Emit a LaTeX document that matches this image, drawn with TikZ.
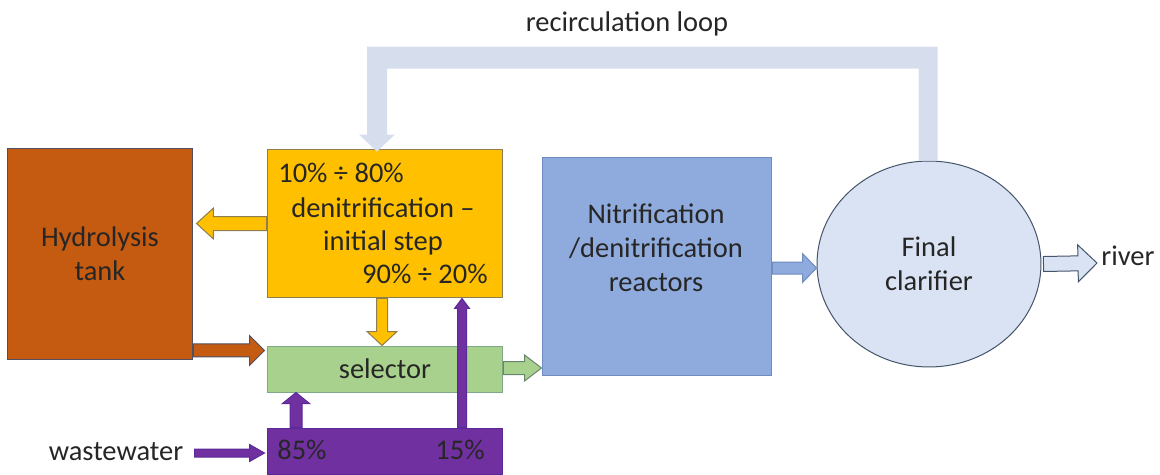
\documentclass[tikz,border=0pt]{standalone}
\usepackage{fontspec}
\setmainfont{Carlito}
\usetikzlibrary{calc,shapes.geometric}
\definecolor{hydro}{HTML}{C55A11}
\definecolor{hydroln}{HTML}{505062}
\definecolor{gold}{HTML}{FFC000}
\definecolor{goldln}{HTML}{8F7F4F}
\definecolor{selfill}{HTML}{A9D18E}
\definecolor{selln}{HTML}{7FA88A}
\definecolor{purp}{HTML}{7030A0}
\definecolor{purpln}{HTML}{5A2A9A}
\definecolor{nitr}{HTML}{8FAADC}
\definecolor{nitrln}{HTML}{6F8CC0}
\definecolor{clar}{HTML}{DAE3F3}
\definecolor{clarln}{HTML}{44546A}
\definecolor{recirc}{HTML}{D6DEEE}
\definecolor{ink}{HTML}{262626}
% block arrow: #1 style, #2 start, #3 tip, #4 shaft half width, #5 head half width, #6 head length
\newcommand{\blockarrow}[6]{%
  \coordinate (bhN) at ($(#3)!#6!(#2)$);
  \draw[#1] ($(#2)!#4!90:(#3)$) -- ($(bhN)!#4!90:(#3)$) -- ($(bhN)!#5!90:(#3)$) -- (#3)
    -- ($(bhN)!#5!-90:(#3)$) -- ($(bhN)!#4!-90:(#3)$) -- ($(#2)!#4!-90:(#3)$) -- cycle;}
\begin{document}
\begin{tikzpicture}[x=0.02cm,y=-0.02cm,
  every node/.style={text=ink,font=\fontsize{16.2pt}{19.3pt}\selectfont},
  box/.style={draw=#1,line width=0.02cm,inner sep=0pt,align=center},
  txt/.style={inner sep=0pt,align=center},
  arr/.style={line width=0.02cm,line join=miter}]
\useasboundingbox (0,0) rectangle (1160,474);
% main nodes
\node[box=hydroln,fill=hydro,minimum width=3.72cm,minimum height=4.24cm] (hyd) at (100,254) {Hydrolysis\\tank};
\node[box=goldln,fill=gold,minimum width=4.72cm,minimum height=2.98cm] (yel) at (385,223.5) {};
\node[box=selln,fill=selfill,minimum width=4.72cm,minimum height=0.92cm] (sel) at (385,369) {selector};
\node[box=purpln,fill=purp,minimum width=4.72cm,minimum height=0.92cm] (pur) at (385,451) {};
\node[box=nitrln,fill=nitr,minimum width=4.6cm,minimum height=4.38cm] (nit) at (657,266.5) {};
\node[box=clarln,fill=clar,ellipse,minimum width=4.48cm,minimum height=4.12cm] (clr) at (929,264) {Final\\clarifier};
% text nodes
\node[txt,anchor=base west] (y1) at (278,182) {10\% ÷ 80\%};
\node[txt,anchor=base] (y2) at (383,217) {denitrification –};
\node[txt,anchor=base] (y3) at (383,250) {initial step};
\node[txt,anchor=base east] (y4) at (488,283) {90\% ÷ 20\%};
\node[txt] (nitt) at (656,248) {Nitrification\\/denitrification\\reactors};
\node[txt,anchor=base west] (p85) at (277,459) {85\%};
\node[txt,anchor=base east] (p15) at (485,459) {15\%};
\node[txt,anchor=base] (ww) at (116,460) {wastewater};
\node[txt,anchor=base west] (riv) at (1101,265) {river};
\node[txt,anchor=base] (rl) at (627,31) {recirculation loop};
% recirculation loop
\coordinate (rs) at (clr.north);
\coordinate (re) at ($(yel.north)+(-8,3)$);
\fill[recirc] ($(rs)+(8.5,0)$) |- ($(re)+(-10,-105)$) -- ($(re)+(-10,-17)$) -- ($(re)+(-18,-17)$) -- (re)
  -- ($(re)+(18,-17)$) -- ($(re)+(10,-17)$) |- ($(rs)+(-10.5,-92)$) -- ($(rs)+(-10.5,0)$) -- cycle;
% arrows
\coordinate (a1s) at (yel.west);
\coordinate (a1e) at ($(hyd.east |- yel.west)+(3,0)$);
\blockarrow{arr,fill=gold,draw=goldln}{a1s}{a1e}{0.14cm}{0.31cm}{0.34cm}
\coordinate (a2s) at ($(hyd.south east)+(0,-10)$);
\coordinate (a2e) at ($(sel.west |- a2s)+(-2,0)$);
\blockarrow{arr,fill=hydro,draw=hydroln}{a2s}{a2e}{0.13cm}{0.30cm}{0.30cm}
\coordinate (a3s) at ($(yel.south)+(-3,0)$);
\coordinate (a3e) at (sel.north -| a3s);
\blockarrow{arr,fill=gold,draw=goldln}{a3s}{a3e}{0.11cm}{0.30cm}{0.28cm}
\coordinate (a4s) at ($(pur.north)+(77,0)$);
\coordinate (a4e) at (yel.south -| a4s);
\blockarrow{arr,fill=purp,draw=purpln}{a4s}{a4e}{0.09cm}{0.15cm}{0.20cm}
\coordinate (a5s) at ($(pur.north)+(-89,0)$);
\coordinate (a5e) at (sel.south -| a5s);
\blockarrow{arr,fill=purp,draw=purpln}{a5s}{a5e}{0.12cm}{0.27cm}{0.22cm}
\coordinate (a6s) at ($(ww.base east)+(11,-7)$);
\coordinate (a6e) at ($(pur.west |- a6s)+(-2,0)$);
\blockarrow{arr,fill=purp,draw=purpln}{a6s}{a6e}{0.08cm}{0.17cm}{0.30cm}
\coordinate (a7s) at ($(sel.east)+(0,-1)$);
\coordinate (a7e) at (nit.west |- a7s);
\blockarrow{arr,fill=selfill,draw=selln!80!black}{a7s}{a7e}{0.13cm}{0.26cm}{0.34cm}
\coordinate (a8s) at ($(nit.east)+(0,1.5)$);
\coordinate (a8e) at (clr.west |- a8s);
\blockarrow{arr,fill=nitr,draw=nitrln}{a8s}{a8e}{0.12cm}{0.29cm}{0.28cm}
\coordinate (a9s) at ($(clr.east)+(2,0)$);
\coordinate (a9e) at ($(riv.base west)+(-4,-2)$);
\blockarrow{arr,fill=clar,draw=clarln}{a9s}{a9e}{0.15cm}{0.37cm}{0.38cm}
\end{tikzpicture}
\end{document}
